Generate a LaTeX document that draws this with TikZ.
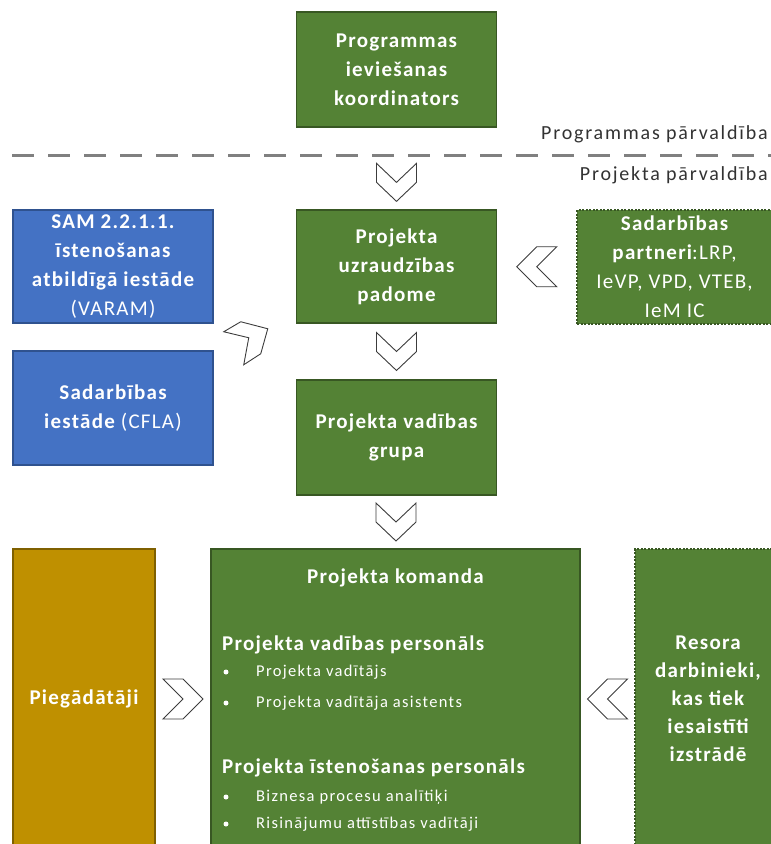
\documentclass[tikz,border=0pt]{standalone}
\usepackage{fontspec}
\setmainfont{Carlito}
\newfontfamily\fboxf[LetterSpace=6]{Carlito}
\newfontfamily\fitem[LetterSpace=8]{Carlito}
\newfontfamily\flab[LetterSpace=9]{Carlito}
\usetikzlibrary{calc}
\definecolor{gfill}{RGB}{84,130,53}
\definecolor{gdraw}{RGB}{56,87,35}
\definecolor{bfill}{RGB}{68,114,196}
\definecolor{bdraw}{RGB}{47,82,143}
\definecolor{ofill}{RGB}{191,144,0}
\definecolor{odraw}{RGB}{127,96,0}
\definecolor{chevc}{RGB}{60,60,60}
\definecolor{labc}{RGB}{50,50,50}
\definecolor{sepc}{RGB}{128,128,128}
\begin{document}
\begin{tikzpicture}[x=1pt,y=-1pt,
  gbox/.style={draw=gdraw, fill=gfill, line width=1.5pt, text=white, align=center,
    inner sep=0pt, minimum width=200pt, minimum height=115pt,
    font=\fboxf\fontsize{21}{29}\selectfont\bfseries},
  bbox/.style={gbox, draw=bdraw, fill=bfill},
  obox/.style={gbox, draw=odraw, fill=ofill},
  dbox/.style={gbox, dash pattern=on 2pt off 1.5pt},
  head/.style={text=white, inner sep=0pt, anchor=west, font=\fboxf\fontsize{21}{24}\selectfont\bfseries},
  item/.style={text=white, inner sep=0pt, anchor=west, font=\fitem\fontsize{16.5}{18}\selectfont},
  dot/.style={circle, fill=white, inner sep=0pt, minimum size=5pt},
  lab/.style={text=labc, inner sep=0pt, anchor=east, font=\flab\fontsize{20}{22}\selectfont},
  sepline/.style={draw=sepc, line width=3pt, dash pattern=on 22pt off 14pt},
  chev/.style={draw=chevc, fill=white, line width=0.9pt, line join=miter},
  pics/chevright/.style={code={\draw[chev] (-20,-20)--(0,-20)--(20,0)--(0,20)--(-20,20)--(0,0)--cycle;}},
  pics/chevleft/.style={code={\draw[chev] (20,-20)--(0,-20)--(-20,0)--(0,20)--(20,20)--(0,0)--cycle;}},
  pics/chevdown/.style={code={\draw[chev] (-20,-19)--(0,0)--(20,-19)--(20,0)--(0,19)--(-20,0)--cycle;}},
  pics/chevdiag/.style={code={\draw[chev] (-22,-11)--(-5,-21)--(22,-14)--(15,11)--(-2,22)--(3,-5)--cycle;}}
]
\useasboundingbox (0,0) rectangle (771,844);

% separator
\coordinate (sl) at (12,155);
\coordinate (sr) at (771,155);
\draw[sepline] (sl) -- (sr);
\node[lab] (lp1) at (768,134) {Programmas pārvaldība};
\node[lab] (lp2) at (768,175) {Projekta pārvaldība};

% boxes
\node[gbox] (coord) at (396.5,69.5) {Programmas\\ieviešanas\\koordinators};
\node[bbox, minimum height=113pt] (sam) at (113,266.5) {SAM 2.2.1.1.\\īstenošanas\\atbildīgā iestāde\\\mdseries(VARAM)};
\node[bbox, minimum height=114pt] (cfla) at (113,408) {Sadarbības\\iestāde \mdseries(CFLA)};
\node[gbox, minimum height=113pt] (padome) at (396.5,266.5) {Projekta\\uzraudzības\\padome};
\node[dbox, minimum width=195pt, minimum height=114pt] (partneri) at (674.5,267) {Sadarbības\\partneri\mdseries:LRP,\\\mdseries IeVP, VPD, VTEB,\\\mdseries IeM IC};
\node[gbox] (grupa) at (396.5,437.5) {Projekta vadības\\grupa};
\node[obox, minimum width=142pt, minimum height=300pt] (pieg) at (84,699) {Piegādātāji};
\node[gbox, minimum width=369pt, minimum height=300pt] (komanda) at (395.5,699) {};
\node[dbox, minimum width=146pt, minimum height=300pt, font=\fboxf\fontsize{21}{28}\selectfont\bfseries] (resora) at (708,699) {Resora\\darbinieki,\\kas tiek\\iesaistīti\\izstrādē};

% team contents
\node[head, anchor=center] (kt) at (395.5,578) {Projekta komanda};
\node[head] (h1) at (222,645) {Projekta vadības personāls};
\node[dot] (b1) at (226,672) {};
\node[item] (i1) at (256,672) {Projekta vadītājs};
\node[dot] (b2) at (226,703) {};
\node[item] (i2) at (256,703) {Projekta vadītāja asistents};
\node[head] (h2) at (222,768) {Projekta īstenošanas personāls};
\node[dot] (b3) at (226,797) {};
\node[item] (i3) at (256,797) {Biznesa procesu analītiķi};
\node[dot] (b4) at (226,824) {};
\node[item] (i4) at (256,824) {Risinājumu attīstības vadītāji};

% chevrons
\pic at ($(coord.south)!0.67!(padome.north)$) {chevdown};
\pic at ($(padome.south)!0.5!(grupa.north)$) {chevdown};
\pic at ($(grupa.south)!0.5!(komanda.north)$) {chevdown};
\pic at ($(padome.east)!0.5!(partneri.west)$) {chevleft};
\pic at ($(sam.south east)+(32,19)$) {chevdiag};
\pic at ($(pieg.east)!0.5!(komanda.west)$) {chevright};
\pic at ($(komanda.east)!0.5!(resora.west)$) {chevleft};
\end{tikzpicture}
\end{document}
